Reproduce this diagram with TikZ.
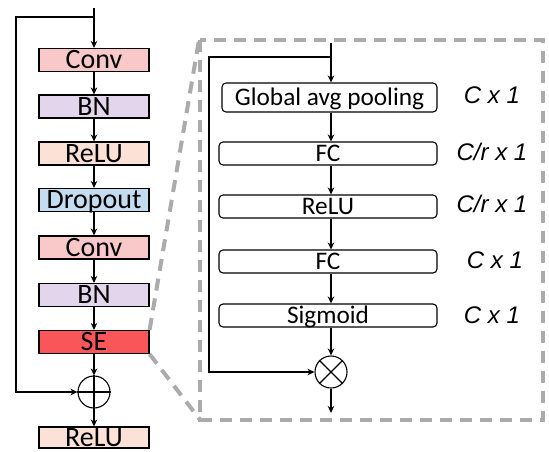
\documentclass[tikz,border=0pt]{standalone}
\usepackage{fontspec}
\setmainfont{Carlito}
\newfontfamily\dimfont{Liberation Sans}
\usetikzlibrary{arrows.meta}

\definecolor{convred}{HTML}{F9C9C9}
\definecolor{bnpurple}{HTML}{E3D6EC}
\definecolor{relupeach}{HTML}{FCE1D6}
\definecolor{dropblue}{HTML}{C4DCF0}
\definecolor{sered}{HTML}{F9565A}
\definecolor{panelgray}{HTML}{ABABAB}

\tikzset{
  layer/.style={draw, line width=1.1pt, minimum width=110pt, minimum height=23pt, inner sep=0pt,
    text height=17.5pt, text depth=0pt, font=\fontsize{28}{28}\selectfont},
  seblock/.style={draw, line width=1.1pt, rounded corners=4pt, minimum width=218pt, minimum height=23pt,
    inner sep=0pt, text height=16.5pt, text depth=0pt, font=\fontsize{25.3}{26}\selectfont},
  dims/.style={font=\dimfont\itshape\fontsize{24}{24}\selectfont},
  opcirc/.style={draw, circle, line width=1.1pt, minimum size=32pt, inner sep=0pt},
  flow/.style={line width=2.2pt, ->},
  panel/.style={panelgray, line width=4pt, dash pattern=on 12pt off 8pt}
}

\begin{document}
\begin{tikzpicture}[x=1pt,y=-1pt,>={Stealth[length=7pt,width=6.5pt]}]
    \useasboundingbox (0,0) rectangle (549,451);

    % residual block
    \node[layer, fill=convred] (conv1) at (94,60) {Conv};
    \node[layer, fill=bnpurple] (bn1) at (94,106.5) {BN};
    \node[layer, fill=relupeach] (relu1) at (94,153.5) {ReLU};
    \node[layer, fill=dropblue] (drop) at (94,200) {Dropout};
    \node[layer, fill=convred] (conv2) at (94,247.5) {Conv};
    \node[layer, fill=bnpurple] (bn2) at (94,295) {BN};
    \node[layer, fill=sered] (se) at (94,342) {SE};
    \node[opcirc] (add) at (94,392) {};
    \node[layer, fill=relupeach, minimum height=21pt, text height=17pt] (relu2) at (94,437.5) {ReLU};

    \coordinate (in) at (94,8);
    \coordinate (split) at (94,17);
    \coordinate (skipA) at (16,17);
    \coordinate (skipB) at (16,392);

    \draw[flow] (in) -- (conv1);
    \draw[flow] (conv1) -- (bn1);
    \draw[flow] (bn1) -- (relu1);
    \draw[flow] (relu1) -- (drop);
    \draw[flow] (drop) -- (conv2);
    \draw[flow] (conv2) -- (bn2);
    \draw[flow] (bn2) -- (se);
    \draw[flow] (se) -- (add.north);
    \draw[line width=2.2pt] (add.north) -- (add.south);
    \draw[line width=1.1pt] (add.west) -- (add.east);
    \draw[flow] (add.south) -- (relu2);
    \draw[flow] (split) -- (skipA) -- (skipB) -- (add.west);

    % zoom onto the SE block
    \draw[panel] (200,40) rectangle (543,420);
    \draw[panel] (se.north east) -- (199,40);
    \draw[panel] (se.south east) -- (201,421);

    \node[seblock, minimum width=215pt, minimum height=29pt] (gap) at (329.5,97.5) {Global avg pooling};
    \node[seblock] (fc1) at (328,153.5) {FC};
    \node[seblock] (relu3) at (328,206.5) {ReLU};
    \node[seblock] (fc2) at (328,261.5) {FC};
    \node[seblock] (sig) at (328,315.5) {Sigmoid};
    \node[opcirc] (mul) at (331,372) {};

    \node[dims] (d1) at (492,95) {C x 1};
    \node[dims] (d2) at (492,152) {C/r x 1};
    \node[dims] (d3) at (492,204) {C/r x 1};
    \node[dims] (d4) at (495,260) {C x 1};
    \node[dims] (d5) at (492,315) {C x 1};

    \coordinate (sein) at (331,43);
    \coordinate (sesplit) at (331,57);
    \coordinate (seskipA) at (209,57);
    \coordinate (seskipB) at (209,372);
    \coordinate (seout) at (331,413);

    \draw[flow] (sein) -- (sein |- gap.north);
    \draw[flow] (gap.south -| sein) -- (sein |- fc1.north);
    \draw[flow] (fc1.south -| sein) -- (sein |- relu3.north);
    \draw[flow] (relu3.south -| sein) -- (sein |- fc2.north);
    \draw[flow] (fc2.south -| sein) -- (sein |- sig.north);
    \draw[flow] (sig.south -| sein) -- (mul);
    \draw[line width=1.1pt] (mul.north west) -- (mul.south east);
    \draw[line width=1.1pt] (mul.north east) -- (mul.south west);
    \draw[flow] (mul) -- (seout);
    \draw[flow] (sesplit) -- (seskipA) -- (seskipB) -- (mul);

\end{tikzpicture}
\end{document}
